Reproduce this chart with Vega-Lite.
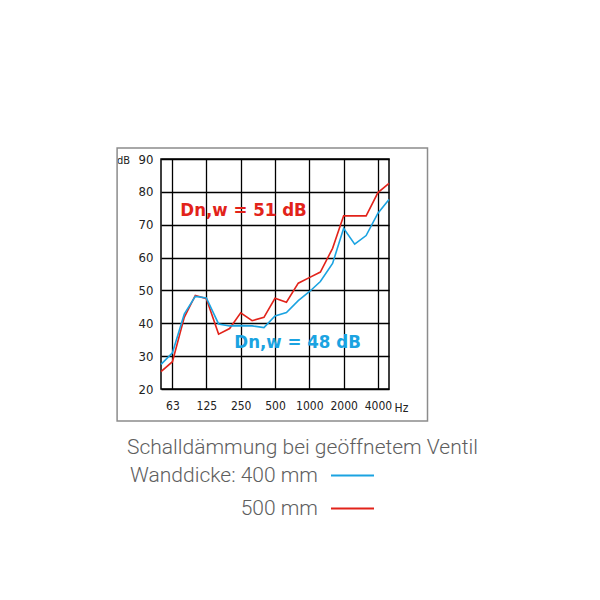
{
  "$schema": "https://vega.github.io/schema/vega-lite/v6.json",
  "autosize": "none",
  "width": 228,
  "height": 230,
  "padding": {"left": 161, "top": 159, "right": 211, "bottom": 211},
  "background": "white",
  "config": {
    "view": {"stroke": "black", "strokeWidth": 1.5},
    "axis": {"domain": false, "ticks": false, "grid": true, "gridColor": "black", "gridWidth": 1.3, "gridOpacity": 1,
      "labelFont": "DejaVu Sans Condensed, Liberation Sans, sans-serif", "labelFontSize": 12, "labelColor": "#222", "labelOverlap": false,
      "titleFont": "DejaVu Sans Condensed, Liberation Sans, sans-serif", "titleFontWeight": "normal", "titleColor": "#222"}
  },
  "datasets": {
    "curves": [
      {"freq": 50, "dB": 25.3, "Wanddicke": "500 mm"},
      {"freq": 63, "dB": 28.3, "Wanddicke": "500 mm"},
      {"freq": 80, "dB": 41.8, "Wanddicke": "500 mm"},
      {"freq": 100, "dB": 48.5, "Wanddicke": "500 mm"},
      {"freq": 125, "dB": 47.5, "Wanddicke": "500 mm"},
      {"freq": 160, "dB": 36.7, "Wanddicke": "500 mm"},
      {"freq": 200, "dB": 38.4, "Wanddicke": "500 mm"},
      {"freq": 250, "dB": 43.2, "Wanddicke": "500 mm"},
      {"freq": 315, "dB": 40.8, "Wanddicke": "500 mm"},
      {"freq": 400, "dB": 41.8, "Wanddicke": "500 mm"},
      {"freq": 500, "dB": 47.6, "Wanddicke": "500 mm"},
      {"freq": 630, "dB": 46.4, "Wanddicke": "500 mm"},
      {"freq": 800, "dB": 52.2, "Wanddicke": "500 mm"},
      {"freq": 1000, "dB": 53.9, "Wanddicke": "500 mm"},
      {"freq": 1250, "dB": 55.6, "Wanddicke": "500 mm"},
      {"freq": 1600, "dB": 62.8, "Wanddicke": "500 mm"},
      {"freq": 2000, "dB": 72.7, "Wanddicke": "500 mm"},
      {"freq": 2500, "dB": 72.7, "Wanddicke": "500 mm"},
      {"freq": 3150, "dB": 72.7, "Wanddicke": "500 mm"},
      {"freq": 4000, "dB": 79.8, "Wanddicke": "500 mm"},
      {"freq": 5000, "dB": 82.6, "Wanddicke": "500 mm"},
      {"freq": 50, "dB": 27.5, "Wanddicke": "400 mm"},
      {"freq": 63, "dB": 31.0, "Wanddicke": "400 mm"},
      {"freq": 80, "dB": 42.8, "Wanddicke": "400 mm"},
      {"freq": 100, "dB": 48.2, "Wanddicke": "400 mm"},
      {"freq": 125, "dB": 47.7, "Wanddicke": "400 mm"},
      {"freq": 160, "dB": 39.8, "Wanddicke": "400 mm"},
      {"freq": 200, "dB": 39.2, "Wanddicke": "400 mm"},
      {"freq": 250, "dB": 39.3, "Wanddicke": "400 mm"},
      {"freq": 315, "dB": 39.2, "Wanddicke": "400 mm"},
      {"freq": 400, "dB": 38.7, "Wanddicke": "400 mm"},
      {"freq": 500, "dB": 42.2, "Wanddicke": "400 mm"},
      {"freq": 630, "dB": 43.3, "Wanddicke": "400 mm"},
      {"freq": 800, "dB": 46.9, "Wanddicke": "400 mm"},
      {"freq": 1000, "dB": 49.6, "Wanddicke": "400 mm"},
      {"freq": 1250, "dB": 52.7, "Wanddicke": "400 mm"},
      {"freq": 1600, "dB": 58.2, "Wanddicke": "400 mm"},
      {"freq": 2000, "dB": 68.9, "Wanddicke": "400 mm"},
      {"freq": 2500, "dB": 64.1, "Wanddicke": "400 mm"},
      {"freq": 3150, "dB": 66.7, "Wanddicke": "400 mm"},
      {"freq": 4000, "dB": 73.5, "Wanddicke": "400 mm"},
      {"freq": 5000, "dB": 77.7, "Wanddicke": "400 mm"}
    ],
    "labels": [
      {"freq": 265, "dB": 74.5, "Wanddicke": "500 mm", "label": "Dn,w = 51 dB"},
      {"freq": 789, "dB": 34.4, "Wanddicke": "400 mm", "label": "Dn,w = 48 dB"}
    ]
  },
  "layer": [
    {
      "data": {"name": "curves"},
      "mark": {"type": "line", "strokeWidth": 1.6},
      "encoding": {
        "x": {"field": "freq", "type": "quantitative",
          "scale": {"type": "log", "domain": [50, 5000], "nice": false},
          "axis": {"values": [63, 125, 250, 500, 1000, 2000, 4000], "format": "d", "labelPadding": 11, "labelFlush": false, "labelOverlap": false,
            "title": "Hz", "titleFontSize": 12, "titleX": 240, "titleY": 18, "titleAlign": "center", "titleBaseline": "middle"}},
        "y": {"field": "dB", "type": "quantitative",
          "scale": {"domain": [20, 90], "nice": false, "zero": false},
          "axis": {"values": [20, 30, 40, 50, 60, 70, 80, 90], "tickCount": 8, "labelPadding": 8, "labelFontSize": 13, "labelOverlap": false, "labelFlush": false,
            "title": "dB", "titleFontSize": 11, "titleAngle": 0, "titleX": -38, "titleY": 1, "titleAlign": "center", "titleBaseline": "middle"}},
        "color": {"field": "Wanddicke", "type": "nominal",
          "scale": {"domain": ["400 mm", "500 mm"], "range": ["#1ba3e1", "#e2231a"]},
          "legend": {"orient": "none", "legendX": -34, "legendY": 278,
            "title": "Schalldämmung bei geöffnetem Ventil", "titleLimit": 1000, "labelLimit": 1000,
            "titleFont": "Roboto", "titleFontWeight": 300, "titleFontSize": 21, "titleColor": "#5e5e5e", "titlePadding": -5,
            "labelFont": "Roboto", "labelFontWeight": 300, "labelFontSize": 21, "labelColor": "#5e5e5e",
            "labelExpr": "datum.label == '400 mm' ? 'Wanddicke: 400 mm' : datum.label",
            "symbolType": "stroke", "symbolSize": 1849, "symbolStrokeWidth": 2,
            "symbolOffset": 203, "labelAlign": "right", "labelOffset": -57, "rowPadding": -6}}
      }
    },
    {
      "data": {"name": "labels"},
      "mark": {"type": "text", "font": "DejaVu Sans Condensed, Liberation Sans, sans-serif", "fontWeight": "bold", "fontSize": 18.5, "align": "center", "baseline": "middle"},
      "encoding": {
        "x": {"field": "freq", "type": "quantitative"},
        "y": {"field": "dB", "type": "quantitative",
          "axis": {"values": [20, 30, 40, 50, 60, 70, 80, 90], "tickCount": 8, "labelPadding": 8, "labelFontSize": 13, "labelOverlap": false, "labelFlush": false,
            "title": "dB", "titleFontSize": 11, "titleAngle": 0, "titleX": -38, "titleY": 1, "titleAlign": "center", "titleBaseline": "middle"}},
        "text": {"field": "label"},
        "fill": {"field": "Wanddicke", "type": "nominal",
          "scale": {"domain": ["400 mm", "500 mm"], "range": ["#1ba3e1", "#e2231a"]}, "legend": null}
      }
    },
    {
      "data": {"values": [{}]},
      "mark": {"type": "rect", "fill": null, "stroke": "#8c8c8c", "strokeWidth": 1.5, "clip": false},
      "encoding": {
        "x": {"datum": 20.6, "type": "quantitative"},
        "x2": {"datum": 10883},
        "y": {"datum": 93.35, "type": "quantitative"},
        "y2": {"datum": 10.26}
      }
    }
  ]
}
